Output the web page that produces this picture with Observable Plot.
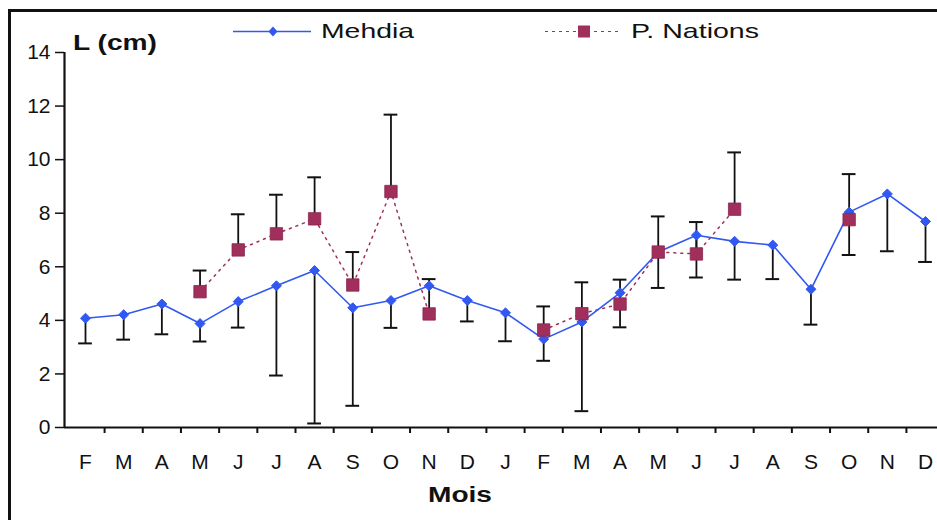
<!DOCTYPE html>
<html><head><meta charset="utf-8">
<script src="https://cdn.jsdelivr.net/npm/d3@7"></script>
<script src="https://cdn.jsdelivr.net/npm/@observablehq/plot@0.6"></script>
<style>
body{margin:0;background:#fff;font-family:"Liberation Sans",Arial,sans-serif;}
#wrap{position:relative;width:937px;height:520px;overflow:hidden;background:#fff;}
#frame{position:absolute;left:8px;top:9px;width:1000px;height:1000px;border-left:3px solid #111;border-top:3px solid #111;pointer-events:none;}
#over{position:absolute;left:0;top:0;pointer-events:none;}
</style></head><body>
<div id="wrap"><div id="chart"></div><div id="frame"></div><svg id="over" width="937" height="520"></svg></div>
<script>
// ---- data ----
const months = ["F","M","A","M","J","J","A","S","O","N","D","J","F","M","A","M","J","J","A","S","O","N","D"];
const seriesNames = ["Mehdia", "P. Nations"];
const mehdia     = [4.08,4.21,4.61,3.88,4.70,5.29,5.86,4.47,4.74,5.29,4.74,4.28,3.30,3.94,5.03,6.55,7.18,6.95,6.81,5.16,8.04,8.72,7.69];
const mehdiaLow  = [3.14,3.28,3.48,3.21,3.73,1.94,0.15,0.81,3.72,null,3.96,3.22,2.49,0.61,3.74,5.21,5.60,5.52,5.54,3.84,6.44,6.58,6.18];
const nations    = [null,null,null,5.07,6.63,7.23,7.79,5.32,8.81,4.24,null,null,3.64,4.25,4.61,6.55,6.48,8.15,null,null,7.76,null,null];
const nationsHigh= [null,null,null,5.86,7.96,8.69,9.34,6.55,11.68,5.54,null,null,4.52,5.42,5.52,7.88,7.67,10.27,null,null,9.46,null,null];
const yTicks = [0,2,4,6,8,10,12,14];
const yLabel = "L (cm)";
const xLabel = "Mois";

// ---- styles ----
const blue = "#3158f0";
const maroon = "#a02f5c";
const cap = 0.18;
const xDomain = [-0.55, 22.5];

const rows = months.map((m, i) => ({i, m, mehdia: mehdia[i], mLow: mehdiaLow[i], nations: nations[i], nHigh: nationsHigh[i]}));
const idx = months.map((_, i) => i);
const boundaries = months.map((_, i) => i + 0.5);
const mErr = rows.filter(d => d.mLow != null);
const nErr = rows.filter(d => d.nHigh != null);
const nPts = rows.filter(d => d.nations != null);

const chart = Plot.plot({
  width: 937, height: 520,
  marginTop: 52, marginBottom: 93, marginLeft: 64, marginRight: 0,
  style: {fontFamily: "'Liberation Sans', Arial, sans-serif", color: "#111", background: "transparent"},
  x: {type: "linear", domain: xDomain, range: [64, 944.1]},
  y: {domain: [0, 14], range: [427, 52]},
  marks: [
    Plot.axisY({ticks: yTicks, tickSize: 9, tickPadding: 5, fontSize: 21, label: null, strokeWidth: 1.5}),
    Plot.axisX({ticks: idx, tickSize: 0, tickPadding: 27, tickFormat: i => months[i], fontSize: 21, label: null}),
    Plot.axisX({ticks: boundaries, tickSize: 6, tickFormat: () => "", label: null, strokeWidth: 2}),
    Plot.ruleX(mErr, {x: "i", y1: "mehdia", y2: "mLow", stroke: "#111", strokeWidth: 1.8}),
    Plot.ruleY(mErr, {y: "mLow", x1: d => d.i - cap, x2: d => d.i + cap, stroke: "#111", strokeWidth: 2}),
    Plot.ruleX(nErr, {x: "i", y1: "nations", y2: "nHigh", stroke: "#111", strokeWidth: 1.8}),
    Plot.ruleY(nErr, {y: "nHigh", x1: d => d.i - cap, x2: d => d.i + cap, stroke: "#111", strokeWidth: 2}),
    Plot.line(rows, {x: "i", y: "nations", stroke: maroon, strokeWidth: 1.5, strokeDasharray: "2,5"}),
    Plot.line(rows, {x: "i", y: "mehdia", stroke: blue, strokeWidth: 1.6}),
    Plot.dot(rows, {x: "i", y: "mehdia", symbol: "diamond2", r: 4.5, fill: blue, stroke: blue, strokeWidth: 1}),
    Plot.dot(nPts, {x: "i", y: "nations", symbol: "square", r: 7, fill: maroon, stroke: "#8a2550", strokeWidth: 0.8}),
    Plot.ruleY([0], {stroke: "#111", strokeWidth: 2.2}),
    Plot.ruleX([xDomain[0]], {y1: 0, y2: 14, stroke: "#111", strokeWidth: 2.2})
  ]
});
document.getElementById("chart").appendChild(chart);

// ---- overlay texts & legend ----
const over = d3.select("#over");
const font = "'Liberation Sans', Arial, sans-serif";
over.append("text").attr("x", 73).attr("y", 50).attr("font-family", font).attr("font-weight", "bold")
  .attr("font-size", 22).attr("textLength", 84).attr("lengthAdjust", "spacingAndGlyphs").attr("fill", "#111").text(yLabel);
over.append("text").attr("x", 428).attr("y", 502).attr("font-family", font).attr("font-weight", "bold")
  .attr("font-size", 22).attr("textLength", 64).attr("lengthAdjust", "spacingAndGlyphs").attr("fill", "#111").text(xLabel);

// legend: Mehdia
const lg = [
  {name: seriesNames[0], x0: 233, x1: 311, mx: 273, tx: 321, tw: 93, color: blue, dash: null, sym: "diamond"},
  {name: seriesNames[1], x0: 545, x1: 622, mx: 584, tx: 631, tw: 128, color: maroon, dash: "3,4", sym: "square"}
];
lg.forEach(e => {
  const ln = over.append("line").attr("x1", e.x0).attr("x2", e.x1).attr("y1", 31.5).attr("y2", 31.5)
    .attr("stroke", e.color).attr("stroke-width", e.dash ? 1.2 : 1.5);
  if (e.dash) ln.attr("stroke-dasharray", e.dash);
  if (e.sym === "diamond") {
    over.append("path").attr("d", `M${e.mx},${31.5-5}L${e.mx+4.5},31.5L${e.mx},${31.5+5}L${e.mx-4.5},31.5Z`).attr("fill", e.color);
  } else {
    over.append("rect").attr("x", e.mx - 6).attr("y", 31.5 - 6).attr("width", 12).attr("height", 12).attr("fill", e.color);
  }
  over.append("text").attr("x", e.tx).attr("y", 37.5).attr("font-family", font).attr("font-size", 21)
    .attr("textLength", e.tw).attr("lengthAdjust", "spacingAndGlyphs").attr("fill", "#111").text(e.name);
});
</script>
</body></html>
